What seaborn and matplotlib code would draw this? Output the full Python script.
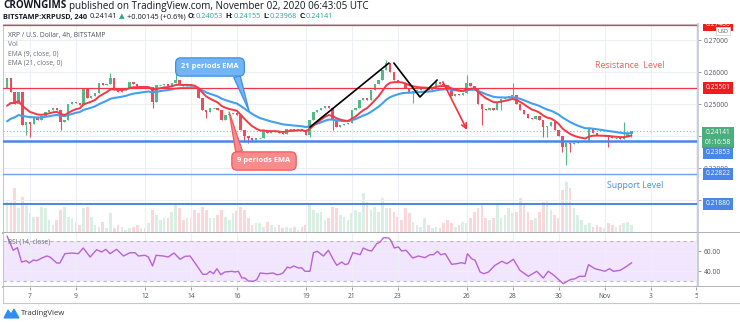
import numpy as np
import pandas as pd
import matplotlib
matplotlib.use("Agg")
import matplotlib.pyplot as plt
import seaborn as sns
from matplotlib.patches import Polygon

# ---------------- data ----------------
first_day = 6            # first visible 4h bar: Oct 6, 00:00 UTC
bars_per_day = 6
first_open = 0.2550
# off-screen history (only used to seed the EMAs)
prior_closes = [0.2380, 0.2372, 0.2378, 0.2370, 0.2375, 0.2382, 0.2376, 0.2371, 0.2378, 0.2374,
                0.2380, 0.2377, 0.2400, 0.2420, 0.2440, 0.2460, 0.2480, 0.2500, 0.2520, 0.2540]
closes = [
    0.2581, 0.2538, 0.2500, 0.2538, 0.2434, 0.2444, 0.2438, 0.2456, 0.2450, 0.2463,
    0.2475, 0.2481, 0.2488, 0.2481, 0.2444, 0.2450, 0.2500, 0.2506, 0.2503, 0.2497,
    0.2550, 0.2519, 0.2525, 0.2534, 0.2566, 0.2559, 0.2563, 0.2581, 0.2544, 0.2538,
    0.2544, 0.2550, 0.2569, 0.2563, 0.2553, 0.2556, 0.2553, 0.2553, 0.2506, 0.2559,
    0.2559, 0.2563, 0.2556, 0.2566, 0.2575, 0.2563, 0.2556, 0.2563, 0.2556, 0.2550,
    0.2519, 0.2481, 0.2475, 0.2488, 0.2488, 0.2481, 0.2450, 0.2466, 0.2469, 0.2472,
    0.2466, 0.2419, 0.2400, 0.2394, 0.2388, 0.2394, 0.2394, 0.2416, 0.2409, 0.2413,
    0.2416, 0.2409, 0.2406, 0.2422, 0.2422, 0.2419, 0.2422, 0.2419, 0.2403, 0.2450,
    0.2475, 0.2481, 0.2488, 0.2494, 0.2488, 0.2450, 0.2428, 0.2434, 0.2438, 0.2441,
    0.2481, 0.2488, 0.2513, 0.2519, 0.2513, 0.2544, 0.2563, 0.2575, 0.2606, 0.2628,
    0.2600, 0.2575, 0.2569, 0.2566, 0.2550, 0.2538, 0.2541, 0.2544, 0.2547, 0.2550,
    0.2544, 0.2550, 0.2569, 0.2563, 0.2559, 0.2550, 0.2525, 0.2531, 0.2528, 0.2534,
    0.2566, 0.2556, 0.2550, 0.2500, 0.2484, 0.2481, 0.2488, 0.2481, 0.2503, 0.2516,
    0.2519, 0.2525, 0.2528, 0.2500, 0.2481, 0.2469, 0.2456, 0.2453, 0.2463, 0.2450,
    0.2428, 0.2431, 0.2444, 0.2419, 0.2400, 0.2366, 0.2378, 0.2375, 0.2378, 0.2381,
    0.2384, 0.2384, 0.2425, 0.2409, 0.2403, 0.2400, 0.2400, 0.2397, 0.2394, 0.2394,
    0.2391, 0.2397, 0.24053, 0.24141]
wick_high = {27: 0.2597, 44: 0.2597, 99: 0.2638, 120: 0.2591, 132: 0.2566, 161: 0.2444, 163: 0.24155}
wick_low = {5: 0.2403, 6: 0.2397, 14: 0.2419, 38: 0.2488, 52: 0.2456, 62: 0.2381, 63: 0.2378,
            64: 0.2381, 79: 0.2397, 85: 0.2419, 106: 0.2503, 124: 0.2434, 129: 0.2481,
            140: 0.2397, 141: 0.2397, 145: 0.2350, 146: 0.2309, 147: 0.2350, 157: 0.2366, 163: 0.23968}
volume = [
    31, 31, 45, 25, 36, 28, 20, 16, 16, 26, 25, 13, 8, 13, 23, 26, 16, 15, 11, 8,
    25, 26, 16, 8, 6, 11, 5, 20, 5, 8, 6, 3, 5, 6, 8, 5, 5, 10, 23, 18,
    13, 15, 15, 21, 28, 25, 13, 15, 15, 23, 20, 26, 23, 15, 15,
    18, 23, 16, 13, 20, 22, 26, 23, 15, 8, 10, 10, 6, 11, 8, 6, 8, 5, 6, 5,
    6, 3, 6, 8, 28, 23, 20, 21, 13, 15, 26, 25, 18, 16, 13, 20, 23, 21, 40, 31,
    23, 26, 21, 35, 25, 25, 21, 16, 13, 25, 20, 11, 8, 6,
    15, 8, 5, 6, 5, 10, 13, 10, 6, 8, 11, 10, 15, 21, 25, 28, 15, 13, 15, 28,
    15, 18, 25, 20, 21, 35, 28, 21, 13, 15, 21, 31, 33, 23, 18, 15, 43, 51, 45, 25,
    18, 13, 8, 10, 6, 8, 6, 5, 10, 8, 6, 8, 10, 11, 8]
rsi_t = [0.0, 1.6, 2.7, 3.8, 5.0, 5.8, 6.9, 7.8, 9.1, 10.4,
         11.2, 13.0, 13.8, 15.1, 16.9, 18.6, 19.9, 21.7, 23.4, 24.7,
         25.8, 26.9, 28.6, 30.4, 32.1, 33.4, 34.3, 36.0, 36.9, 38.0,
         38.9, 40.8, 42.1, 43.6, 45.2, 46.5, 47.8, 49.5, 51.1, 52.1,
         53.0, 53.9, 54.8, 55.8, 56.9, 58.7, 59.5, 60.4, 61.3, 62.1,
         63.0, 64.3, 65.2, 66.1, 67.8, 69.5, 70.4, 71.3, 72.1, 73.2,
         73.9, 74.8, 76.1, 76.9, 77.8, 79.1, 80.0, 81.0, 82.6, 83.9,
         85.1, 86.1, 87.4, 88.3, 89.1, 90.3, 92.2, 93.0, 94.3, 95.2,
         96.5, 97.4, 98.3, 99.6, 100.2, 101.1, 102.2, 103.0, 104.2, 105.9,
         107.4, 109.1, 110.4, 111.3, 112.4, 113.2, 114.4, 116.1, 117.4, 118.7,
         119.6, 120.2, 121.3, 122.2, 123.5, 124.5, 125.7, 127.4, 129.2, 130.5,
         132.2, 133.9, 136.1, 138.3, 140.0, 141.3, 142.6, 145.2, 147.0, 148.3,
         149.4, 150.9, 151.8, 153.5, 156.1, 157.3, 158.3, 160.1, 161.8, 163.1]
rsi_v = [75, 60.7, 63.3, 49, 50.3, 48, 51, 50.3, 53, 55,
         54, 48, 48, 57.3, 58, 57.3, 63, 54, 61.3, 59,
         61.7, 57.3, 61.7, 55, 58.3, 58.3, 55, 55.7, 54, 45,
         55.7, 55, 54, 58, 51.7, 54.7, 55, 45.7, 36.7, 36.7,
         39.7, 37.3, 42.3, 36.3, 39, 39.7, 39, 39.7, 33, 33,
         30, 29.7, 31.3, 38, 37.3, 38, 36.3, 36.7, 38.3, 44,
         43, 45, 43, 43.3, 39.7, 39.7, 58.3, 59.7, 55, 60.7,
         52, 45.7, 49, 46.3, 47.3, 58.3, 56.3, 63, 60.7, 60,
         67.3, 69, 73.3, 73, 70.7, 63, 64, 60, 60.7, 53,
         55, 53.3, 56.3, 56.3, 59.7, 56.3, 57.3, 46.7, 47.3, 48.3,
         47.3, 57.3, 52.3, 50.7, 39, 37.3, 39, 45.7, 49.7, 47.3,
         51.7, 40.7, 34.7, 39.7, 33, 39.7, 36.3, 27.3, 31.3, 32.3,
         34.7, 34.7, 46.3, 42.3, 39.7, 42.3, 39.7, 40.7, 44.7, 48.3]
tick_days = [7, 9, 12, 14, 16, 19, 21, 23, 26, 28, 30, 32, 34, 36]
tick_labels = ['7', '9', '12', '14', '16', '19', '21', '23', '26', '28', '30', 'Nov', '3', '5']
price_ticks = [0.22, 0.23, 0.24, 0.25, 0.26, 0.27]
hidden_price_ticks = [0.22, 0.24]     # covered by level boxes in the reference
rsi_ticks = [40, 60]
resistance = [0.27480, 0.25501]
support = [0.23853, 0.22822, 0.21880]
last_price = 0.24141
ohlc_last = {'O': 0.24053, 'H': 0.24155, 'L': 0.23968, 'C': 0.24141}
change, change_pct = 0.00145, 0.6
countdown = '01:16:58'
# analyst drawings (bar index, price)
zig1_t, zig1_p = [79.1, 99.7], [0.2428, 0.2628]
zig2_t, zig2_p = [101.0, 107.8, 112.3], [0.2628, 0.2522, 0.2575]
arrow_t, arrow_p = [113.8, 120.1], [0.2569, 0.2419]
ema21_tip = (63.2, 0.2478)
ema9_tip = (58.0, 0.2475)

# ---------------- style / layout ----------------
W, H = 740, 324
sns.set_theme(style="white")
plt.rcParams['font.family'] = ['Open Sans', 'DejaVu Sans']
fig = plt.figure(figsize=(W / 100, H / 100), dpi=100)
fig.patch.set_facecolor('white')


def px(x0, y0, x1, y1):
    return [x0 / W, 1 - y1 / H, (x1 - x0) / W, (y1 - y0) / H]


XL = (-1.05, 180.4)
YL = (0.20969, 0.27500)
RL = (24, 78)
grid_c = '#eceff4'
frame_c = '#c5c8cf'
sep_c = '#a5a8b0'
axis_txt = '#50535e'
up_c, dn_c = '#53b987', '#eb4d5c'
blue_lvl = '#4a86e8'
red_lvl = '#f23645'
tick_pos = [(d - first_day) * bars_per_day for d in tick_days]

n = len(closes)
idx = np.arange(n)
c = np.array(closes)
o = np.array([first_open] + closes[:-1])
hi = np.maximum(o, c)
lo = np.minimum(o, c)
for k, v in wick_high.items():
    hi[k] = v
for k, v in wick_low.items():
    lo[k] = v
up = c >= o
cols = np.where(up, up_c, dn_c)

# ---------------- volume (behind) ----------------
axv = fig.add_axes(px(3, 24, 698, 233))
axv.bar(idx, volume, width=0.7, color=cols, alpha=0.22, linewidth=0)
axv.set_xlim(*XL)
axv.set_ylim(0, 209)
axv.axis('off')

# ---------------- main price pane ----------------
ax = fig.add_axes(px(3, 24, 698, 233))
ax.patch.set_visible(False)
ax.set_xlim(*XL)
ax.set_ylim(*YL)
ax.set_yticks(price_ticks)
ax.set_xticks(tick_pos)
ax.tick_params(left=False, bottom=False, labelleft=False, labelbottom=False)
ax.grid(True, color=grid_c, lw=0.8)
ax.set_axisbelow(True)
for s in ax.spines.values():
    s.set_color(frame_c)
    s.set_linewidth(0.8)
ax.spines['bottom'].set_color(sep_c)
ax.spines['bottom'].set_linewidth(1.3)

ax.vlines(idx, lo, hi, colors=cols, lw=0.8, zorder=3)
ax.bar(idx, c - o, bottom=o, width=0.62, color=cols, linewidth=0, zorder=3)
flat = np.abs(c - o) < 0.00004
ax.hlines(c[flat], idx[flat] - 0.31, idx[flat] + 0.31, colors=cols[flat], lw=0.8, zorder=3)

series = pd.Series(prior_closes + closes)
df = pd.DataFrame({'bar': idx,
                   'ema9': series.ewm(span=9, adjust=False).mean().to_numpy()[len(prior_closes):],
                   'ema21': series.ewm(span=21, adjust=False).mean().to_numpy()[len(prior_closes):]})
sns.lineplot(data=df, x='bar', y='ema21', ax=ax, color='#42a0f0', lw=1.5, zorder=4)
sns.lineplot(data=df, x='bar', y='ema9', ax=ax, color='#f23a45', lw=1.4, zorder=4.5)
ax.set_xlabel('')
ax.set_ylabel('')

for lv in resistance:
    ax.axhline(lv, color=red_lvl, lw=0.9, zorder=5)
ax.axhline(support[0], color=blue_lvl, lw=1.8, zorder=5)
ax.axhline(support[1], color='#6fa0ee', lw=1.0, zorder=5)
ax.axhline(support[2], color=blue_lvl, lw=1.4, zorder=5)
ax.axhline(last_price, color=up_c, lw=0.8, ls=(0, (1, 2)), alpha=0.8, zorder=2)

ax.plot(zig1_t, zig1_p, color='black', lw=1.2, zorder=6)
ax.plot(zig2_t, zig2_p, color='black', lw=1.2, zorder=6)
ax.annotate('', xy=(arrow_t[1], arrow_p[1]), xytext=(arrow_t[0], arrow_p[0]),
            arrowprops=dict(arrowstyle='->', color='#f0323c', lw=1.2, mutation_scale=9,
                            shrinkA=0, shrinkB=0), zorder=6)


def callout(text, tip, center, fc, ec, relpos):
    ax.annotate(text, xy=tip, xycoords='data', xytext=(center[0], H - center[1]),
                textcoords='figure pixels', ha='center', va='center', color='white',
                fontsize=5.4, fontweight='bold',
                bbox=dict(boxstyle='round,pad=0.75,rounding_size=0.7', fc=fc, ec=ec, lw=0.9),
                arrowprops=dict(arrowstyle='wedge,tail_width=0.9,shrink_factor=0.5', fc=fc, ec=ec,
                                lw=0.9, relpos=relpos, shrinkA=0, shrinkB=0),
                zorder=7, annotation_clip=False)


callout('21 periods EMA', ema21_tip, (210, 67), '#72b4f4', '#3f8fe8', (0.93, 0.05))
callout('9 periods EMA', ema9_tip, (264, 161), '#f88b8b', '#f05a5a', (0.06, 0.95))


def ftext(x, y, s, **kw):
    return fig.text(x / W, 1 - y / H, s, va='center', ha='left', **kw)


ftext(595, 65, 'Resistance  Level', color='#f25c5c', fontsize=6.3)
ftext(607, 185, 'Support Level', color='#3f8fe6', fontsize=6.3)
ftext(8, 35, 'XRP / U.S. Dollar, 4h, BITSTAMP', color=axis_txt, fontsize=4.9)
ftext(8, 44.5, 'Vol', color='#6a6d78', fontsize=4.9)
ftext(8, 54, 'EMA (9, close, 0)', color='#6a6d78', fontsize=4.9)
ftext(8, 63.5, 'EMA (21, close, 0)', color='#6a6d78', fontsize=4.9)

# ---------------- price scale ----------------
axp = fig.add_axes(px(698, 24, 740, 233))
axp.set_ylim(*YL)
axp.set_xlim(0, 1)
axp.set_xticks([])
axp.set_yticks(price_ticks, ['' if t in hidden_price_ticks else f'{t:.5f}' for t in price_ticks])
axp.tick_params(axis='y', left=True, right=False, direction='in', length=2.5, width=0.6,
                color='#8a8d96', labelleft=True, pad=-4, labelsize=4.8, labelcolor=axis_txt)
for t in axp.get_yticklabels():
    t.set_ha('left')
for s in ['top', 'right']:
    axp.spines[s].set_visible(False)
axp.spines['left'].set_color(frame_c)
axp.spines['bottom'].set_color(sep_c)
axp.spines['bottom'].set_linewidth(1.3)


def pbox(axis, y, text, fc, dy=0, tc='white', ec='none', fs=4.8):
    axis.annotate(text, xy=(0.47, y), xycoords=axis.get_yaxis_transform(), xytext=(0, dy),
                  textcoords='offset pixels', ha='center', va='center', fontsize=fs, color=tc,
                  bbox=dict(boxstyle='square,pad=0.4', fc=fc, ec=ec, lw=0.6), zorder=5,
                  clip_on=True, annotation_clip=False, linespacing=1.5)


pbox(axp, resistance[0], f'{resistance[0]:.5f}', '#f01b1b')
pbox(axp, resistance[1], f'{resistance[1]:.5f}', '#f01b1b')
pbox(axp, last_price, f'{last_price:.5f}\n{countdown}', '#4cae7c', dy=-6)
pbox(axp, support[0], f'{support[0]:.5f}', blue_lvl, dy=-12)
pbox(axp, support[1], f'{support[1]:.5f}', blue_lvl)
pbox(axp, support[2], f'{support[2]:.5f}', blue_lvl)
axp.annotate('USD', xy=(0.6, 0.966), xycoords='axes fraction', ha='center', va='center',
             fontsize=4.0, color=axis_txt,
             bbox=dict(boxstyle='square,pad=0.25', fc='white', ec='#d5d7dc', lw=0.6), zorder=6)

# ---------------- RSI pane ----------------
axr = fig.add_axes(px(3, 233, 698, 287))
axr.set_xlim(*XL)
axr.set_ylim(*RL)
axr.set_yticks(rsi_ticks)
axr.set_xticks(tick_pos)
axr.tick_params(left=False, bottom=False, labelleft=False, labelbottom=False)
axr.grid(True, color=grid_c, lw=0.8)
axr.set_axisbelow(True)
axr.axhspan(30, 70, color='#f2e6ff', zorder=0.5, lw=0)
for lv in (30, 70):
    axr.axhline(lv, color='#b9b9c0', lw=0.8, ls=(0, (3, 3)), zorder=1)
sns.lineplot(x=rsi_t, y=rsi_v, ax=axr, color='#b862d4', lw=1.0, zorder=3)
axr.set_xlabel('')
axr.set_ylabel('')
for s in axr.spines.values():
    s.set_color(frame_c)
    s.set_linewidth(0.8)
axr.spines['top'].set_visible(False)
axr.spines['bottom'].set_color(sep_c)
axr.spines['bottom'].set_linewidth(1.2)
ftext(8, 242, 'RSI (14, close)', color='#6a6d78', fontsize=4.8)

axrp = fig.add_axes(px(698, 233, 740, 287))
axrp.set_ylim(*RL)
axrp.set_xlim(0, 1)
axrp.set_xticks([])
axrp.set_yticks(rsi_ticks, [f'{t:.2f}' for t in rsi_ticks])
axrp.tick_params(axis='y', left=True, right=False, direction='in', length=2.5, width=0.6,
                 color='#8a8d96', labelleft=True, pad=-4, labelsize=4.8, labelcolor=axis_txt)
for t in axrp.get_yticklabels():
    t.set_ha('left')
for s in ['top', 'right']:
    axrp.spines[s].set_visible(False)
axrp.spines['left'].set_color(frame_c)
axrp.spines['bottom'].set_color(sep_c)
axrp.spines['bottom'].set_linewidth(1.2)

# ---------------- date axis ----------------
axd = fig.add_axes(px(3, 287, 698, 303))
axd.set_xlim(*XL)
axd.set_ylim(0, 1)
axd.set_yticks([])
axd.set_xticks(tick_pos, tick_labels)
axd.tick_params(axis='x', bottom=False, top=True, direction='in', length=2.5, width=0.6,
                color='#8a8d96', labelbottom=True, labeltop=False, pad=-7.5, labelsize=4.8,
                labelcolor=axis_txt)
axd.spines['top'].set_visible(False)
for s in ['left', 'right', 'bottom']:
    axd.spines[s].set_color(frame_c)
    axd.spines[s].set_linewidth(0.8)
axd2 = fig.add_axes(px(698, 287, 740, 303))
axd2.set_xticks([])
axd2.set_yticks([])
for s in ['top', 'left', 'right']:
    axd2.spines[s].set_visible(False)
axd2.spines['bottom'].set_color(frame_c)
axd2.spines['bottom'].set_linewidth(0.8)

# ---------------- header ----------------
renderer = fig.canvas.get_renderer()


def seq_text(x, y, parts, size):
    for s, col, wt, gap in parts:
        x += gap
        t = ftext(x, y, s, color=col, fontweight=wt, fontsize=size)
        x += t.get_window_extent(renderer=renderer).width


dark = '#131722'
teal = '#26a69a'
seq_text(3, 6, [('CROWNGIMS', dark, 'bold', 0),
                ('published on TradingView.com, November 02, 2020 06:43:05 UTC', dark, 'normal', 2.5)], 7.1)
seq_text(3, 17, [('BITSTAMP:XRPUSD, 240', dark, 'bold', 0),
                 (f'{last_price:.5f}', dark, 'normal', 2.5),
                 ('\u25b2', teal, 'normal', 2.0),
                 (f'+{change:.5f} (+{change_pct}%)', dark, 'normal', 2.0),
                 ('O:', dark, 'bold', 2.5), (f"{ohlc_last['O']:.5f}", teal, 'normal', 0),
                 ('H:', dark, 'bold', 2.5), (f"{ohlc_last['H']:.5f}", teal, 'normal', 0),
                 ('L:', dark, 'bold', 2.5), (f"{ohlc_last['L']:.5f}", teal, 'normal', 0),
                 ('C:', dark, 'bold', 2.5), (f"{ohlc_last['C']:.5f}", teal, 'normal', 0)], 5.3)

# ---------------- TradingView logo ----------------
logo = Polygon([[4, 318], [8, 310], [11, 314], [14, 309], [19, 318]], closed=True,
               transform=None, fc='#2e8ef0', ec='#2e8ef0', lw=0.8)
logo.set_xy([[x, H - y] for x, y in logo.get_xy()])
fig.add_artist(logo)
ftext(21, 313.5, 'TradingView', color='#333333', fontsize=5.6)

fig.savefig('out.png', dpi=100, facecolor='white')
